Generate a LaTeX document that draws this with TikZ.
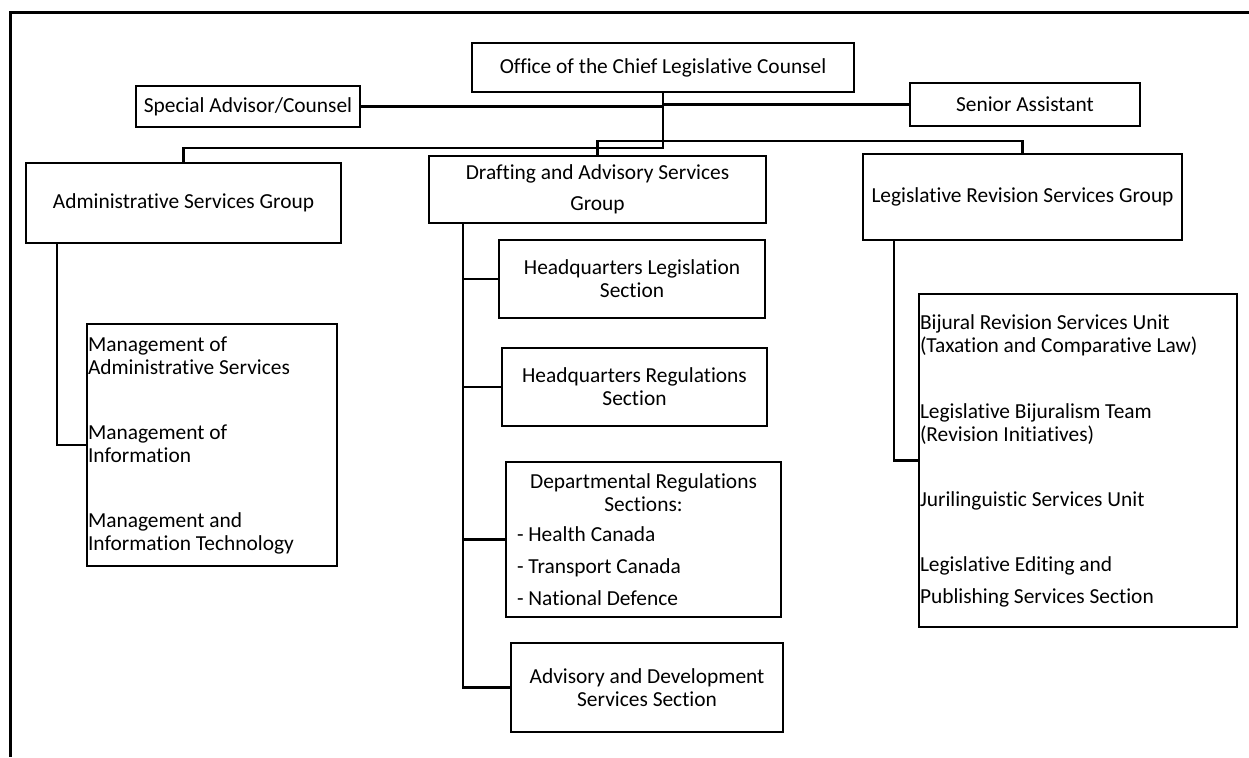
\documentclass[tikz,border=0pt]{standalone}
\usepackage{fontspec}
\setmainfont{Carlito}[Ligatures=NoCommon]

\begin{document}
\begin{tikzpicture}[x=0.5pt,y=-0.5pt,
  unit/.style={draw,line width=1.3pt,inner sep=0pt,align=center,
    font=\fontsize{10.7}{11.5}\selectfont},
  listbox/.style={unit,align=flush left,inner xsep=0.5pt},
  link/.style={line width=1.3pt}]
  \useasboundingbox (0,0) rectangle (1249,757);
  \draw[line width=1.5pt] (1249,12) -- (10,12) -- (10,757);

  % head office and its two advisors
  \node[unit,minimum width=191pt,minimum height=24.5pt] (office) at (663,67.5) {Office of the Chief Legislative Counsel};
  \node[unit,minimum width=112pt,minimum height=20.5pt] (special) at (248,106.5) {Special Advisor/Counsel};
  \node[unit,minimum width=115pt,minimum height=21.5pt] (senior) at (1025,104.5) {Senior Assistant};

  % the three groups
  \node[unit,minimum width=157.5pt,minimum height=40pt] (admin) at (183.5,203) {Administrative Services Group};
  \node[unit,minimum width=168.5pt,minimum height=33.5pt] (drafting) at (597.5,189.5) {Drafting and Advisory Services\\[4pt]Group};
  \node[unit,minimum width=159.5pt,minimum height=43pt] (lrs) at (1022.5,197) {\raisebox{2pt}{Legislative Revision Services Group}};

  % drafting sections
  \node[unit,minimum width=133pt,minimum height=39pt] (hqleg) at (632,279) {Headquarters Legislation\\Section};
  \node[unit,minimum width=132.5pt,minimum height=39pt] (hqreg) at (634.5,387) {Headquarters Regulations\\Section};
  \node[unit,align=flush left,text width=126.5pt,inner xsep=5.5pt,minimum height=77.5pt] (dept) at (643.5,539.5)
    {\makebox[126.5pt]{Departmental Regulations}\\\makebox[126.5pt]{Sections:}\\[3.5pt]- Health Canada\\[4.5pt]- Transport Canada\\[4.5pt]- National Defence};
  \node[unit,minimum width=136pt,minimum height=44.5pt] (advis) at (647,687.5) {Advisory and Development\\Services Section};

  % units listed under the side groups
  \node[listbox,text width=124pt,minimum height=121pt] (adminsub) at (212,445)
    {Management of\\Administrative Services\\[21pt]Management of\\Information\\[21pt]Management and\\Information Technology};
  \node[listbox,text width=158pt,minimum height=166.5pt] (lrssub) at (1078,460.5)
    {Bijural Revision Services Unit\\(Taxation and Comparative Law)\\[21.5pt]Legislative Bijuralism Team\\(Revision Initiatives)\\[21pt]Jurilinguistic Services Unit\\[21pt]Legislative Editing and\\[4.5pt]Publishing Services Section};

  % connectors
  \coordinate (trunk) at (663,148);
  \coordinate (split) at (597.5,141);
  \draw[link] (office.south) -- (trunk) -| (admin.north);
  \draw[link] (special.east) -- (special.east -| office.south);
  \draw[link] (senior.west) -- (senior.west -| office.south);
  \draw[link] (drafting.north) -- (split) -| (lrs.north);

  \draw[link] (admin.south -| 57,0) |- (adminsub.west);
  \draw[link] (lrs.south -| 894,0) |- (lrssub.west);
  \draw[link] (drafting.south -| 463,0) |- (advis.west);
  \foreach \s in {hqleg,hqreg,dept}
    \draw[link] (\s.west) -- (\s.west -| 463,0);
\end{tikzpicture}
\end{document}
